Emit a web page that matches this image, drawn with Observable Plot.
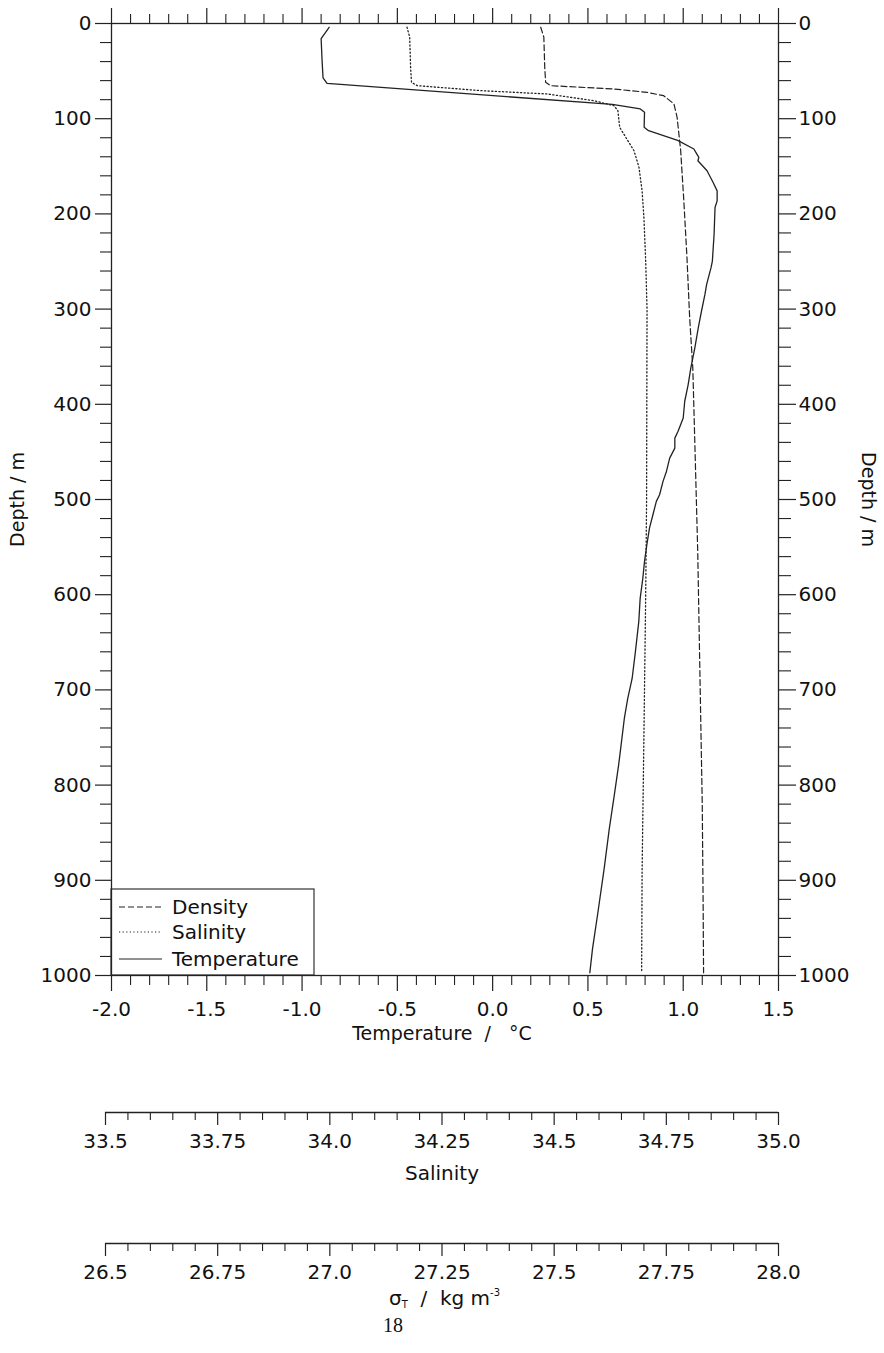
<!DOCTYPE html>
<html>
<head>
<meta charset="utf-8">
<script src="https://cdn.jsdelivr.net/npm/d3@7"></script>
<script src="https://cdn.jsdelivr.net/npm/@observablehq/plot@0.6"></script>
<style>
  html, body { margin: 0; padding: 0; background: #fff; }
  #chart svg { display: block; }
</style>
</head>
<body>
<div id="chart"></div>
<script>
// ---------------- DATA ----------------
// Temperature profile (°C) vs depth (m)
const tempDepth = [4, 16, 39, 57, 63, 85, 89.7, 93.3, 109, 112.6, 122.7, 131.8, 137, 140.7, 144.2, 154.7, 167, 175.8, 186.3, 193.3, 221.4, 249.5, 256.5, 274, 284.6, 302, 319.7, 340.7, 361.8, 379.3, 396.8, 414.4, 428.4, 435.5, 446, 456.5, 470.5, 481, 495, 502, 516, 530, 547.7, 565, 582.8, 604, 628, 660, 688, 709, 730, 758, 779, 811, 846, 888, 937, 972, 997];
const tempValue = [-0.858, -0.900, -0.895, -0.890, -0.869, 0.628, 0.775, 0.797, 0.795, 0.818, 0.971, 1.056, 1.071, 1.082, 1.077, 1.125, 1.157, 1.178, 1.178, 1.167, 1.162, 1.153, 1.146, 1.123, 1.114, 1.096, 1.079, 1.061, 1.040, 1.026, 1.008, 1.000, 0.973, 0.956, 0.956, 0.929, 0.912, 0.894, 0.876, 0.859, 0.841, 0.823, 0.809, 0.797, 0.788, 0.774, 0.767, 0.749, 0.732, 0.709, 0.691, 0.674, 0.661, 0.638, 0.612, 0.585, 0.550, 0.524, 0.510];

// Salinity profile vs depth (m)
const salDepth = [3.9, 14.4, 46, 61.8, 65.3, 70.5, 74, 81, 86.3, 91.6, 109, 116, 133.7, 151, 175.8, 203.9, 249.5, 300, 500, 600, 750, 890, 997];
const salValue = [34.172, 34.178, 34.180, 34.182, 34.195, 34.336, 34.484, 34.588, 34.633, 34.642, 34.646, 34.655, 34.678, 34.689, 34.696, 34.700, 34.704, 34.707, 34.706, 34.704, 34.700, 34.696, 34.695];

// Density (sigma-T, kg m-3) vs depth (m)
const denDepth = [3.9, 14.4, 46, 61.8, 65.3, 68.8, 72.3, 75.8, 84.5, 98.6, 133.7, 186.3, 246, 309, 362, 449, 555, 660, 713, 818, 923, 997];
const denValue = [27.470, 27.477, 27.479, 27.481, 27.492, 27.633, 27.707, 27.744, 27.767, 27.774, 27.782, 27.789, 27.796, 27.802, 27.809, 27.814, 27.820, 27.824, 27.826, 27.830, 27.832, 27.833];

// Axis ticks and labels
const tempTicks = [-2.0, -1.5, -1.0, -0.5, 0.0, 0.5, 1.0, 1.5];
const tempTickLabels = ["-2.0", "-1.5", "-1.0", "-0.5", "0.0", "0.5", "1.0", "1.5"];
const depthTicks = [0, 100, 200, 300, 400, 500, 600, 700, 800, 900, 1000];
const depthTickLabels = ["0", "100", "200", "300", "400", "500", "600", "700", "800", "900", "1000"];
const salTicks = [33.5, 33.75, 34.0, 34.25, 34.5, 34.75, 35.0];
const salTickLabels = ["33.5", "33.75", "34.0", "34.25", "34.5", "34.75", "35.0"];
const denTicks = [26.5, 26.75, 27.0, 27.25, 27.5, 27.75, 28.0];
const denTickLabels = ["26.5", "26.75", "27.0", "27.25", "27.5", "27.75", "28.0"];

const seriesNames = ["Density", "Salinity", "Temperature"];
const seriesDash = ["6,3", "1.2,2.4", null];

// ---------------- LAYOUT ----------------
const W = 884;
const FONT = "DejaVu Sans";
const INK = "#111";
const LINE = "#222";
const main = { height: 1060, left: 111, right: 106, top: 23, bottom: 85 };
const auxInset = 6; // secondary axes start a little left of the temperature axis
const auxLeftPx = main.left - auxInset;

const tempDomain = [tempTicks[0], tempTicks[tempTicks.length - 1]];
const unitsPerPx = (tempDomain[1] - tempDomain[0]) / (W - main.left - main.right);
const auxLeftT = tempDomain[0] - auxInset * unitsPerPx;

// map the secondary quantities onto the temperature axis, as the figure does
const salToT = d3.scaleLinear([salTicks[0], salTicks[salTicks.length - 1]], [auxLeftT, tempDomain[1]]);
const denToT = d3.scaleLinear([denTicks[0], denTicks[denTicks.length - 1]], [auxLeftT, tempDomain[1]]);

const tempRows = tempDepth.map((d, i) => ({ depth: d, value: tempValue[i] }));
const salRows = salDepth.map((d, i) => ({ depth: d, value: salToT(salValue[i]) }));
const denRows = denDepth.map((d, i) => ({ depth: d, value: denToT(denValue[i]) }));

const near = (a, b) => Math.abs(a - b) < 1e-9;
const fmt = (ticks, labels) => d => { const i = ticks.findIndex(t => near(t, d)); return i >= 0 ? labels[i] : ""; };
const blank = () => "";
const minorOf = (ticks, step) => {
  const lo = ticks[0], hi = ticks[ticks.length - 1];
  const n = Math.round((hi - lo) / step);
  return d3.range(n + 1).map(i => +(lo + i * step).toFixed(6)).filter(v => !ticks.some(t => near(t, v)));
};
const tempMinor = minorOf(tempTicks, 0.1);
const depthMinor = minorOf(depthTicks, 20);
const salMinor = minorOf(salTicks, 0.05);
const denMinor = minorOf(denTicks, 0.05);

// legend drawn in the lower-left corner of the frame
function legendMark(index, scales, values, dims) {
  const x0 = dims.marginLeft;
  const yb = dims.height - dims.marginBottom;
  const boxW = 203, boxH = 86;
  const rows = [-68, -43, -16];
  const g = d3.create("svg:g");
  g.append("rect").attr("x", x0).attr("y", yb - boxH).attr("width", boxW).attr("height", boxH)
    .attr("fill", "#fff").attr("stroke", "#333").attr("stroke-width", 1.2);
  seriesNames.forEach((name, i) => {
    const y = yb + rows[i];
    const l = g.append("line").attr("x1", x0 + 8).attr("x2", x0 + 51).attr("y1", y).attr("y2", y)
      .attr("stroke", LINE).attr("stroke-width", 1.2);
    if (seriesDash[i]) l.attr("stroke-dasharray", seriesDash[i]);
    g.append("text").attr("x", x0 + 61).attr("y", y).attr("dy", "0.36em")
      .attr("text-anchor", "start")
      .attr("font-family", FONT).attr("font-size", 20).attr("fill", INK).text(name);
  });
  return g.node();
}

const svgStyle = { fontFamily: FONT, fontSize: "20px", color: INK, background: "#fff", overflow: "visible" };

const mainPlot = Plot.plot({
  width: W, height: main.height,
  marginLeft: main.left, marginRight: main.right, marginTop: main.top, marginBottom: main.bottom,
  style: svgStyle,
  x: { domain: tempDomain },
  y: { domain: [0, 1000], reverse: true },
  marks: [
    Plot.axisX({ anchor: "top", ticks: tempTicks, tickSize: 16, tickFormat: blank, label: null, stroke: LINE, strokeWidth: 1.2 }),
    Plot.axisX({ anchor: "top", ticks: tempMinor, tickSize: 10, tickFormat: blank, label: null, stroke: LINE, strokeWidth: 1.1 }),
    Plot.axisX({ anchor: "bottom", ticks: tempTicks, tickSize: 16, tickPadding: 10, tickFormat: fmt(tempTicks, tempTickLabels), label: null, stroke: LINE, strokeWidth: 1.2, fontSize: 20 }),
    Plot.axisX({ anchor: "bottom", ticks: tempMinor, tickSize: 10, tickFormat: blank, label: null, stroke: LINE, strokeWidth: 1.1 }),
    Plot.axisY({ anchor: "left", ticks: depthTicks, tickSize: 16, tickPadding: 4, tickFormat: fmt(depthTicks, depthTickLabels), label: null, stroke: LINE, strokeWidth: 1.2, fontSize: 20 }),
    Plot.axisY({ anchor: "left", ticks: depthMinor, tickSize: 11, tickFormat: blank, label: null, stroke: LINE, strokeWidth: 1.1 }),
    Plot.axisY({ anchor: "right", ticks: depthTicks, tickSize: 17, tickPadding: 3, tickFormat: fmt(depthTicks, depthTickLabels), label: null, stroke: LINE, strokeWidth: 1.2, fontSize: 20 }),
    Plot.axisY({ anchor: "right", ticks: depthMinor, tickSize: 12, tickFormat: blank, label: null, stroke: LINE, strokeWidth: 1.1 }),
    Plot.line(denRows, { x: "value", y: "depth", stroke: LINE, strokeWidth: 1.2, strokeDasharray: seriesDash[0] }),
    Plot.line(salRows, { x: "value", y: "depth", stroke: LINE, strokeWidth: 1.3, strokeDasharray: seriesDash[1] }),
    Plot.line(tempRows, { x: "value", y: "depth", stroke: LINE, strokeWidth: 1.3 }),
    legendMark,
    Plot.frame({ stroke: LINE, strokeWidth: 1.3 }),
    Plot.text(["Depth / m"], { text: d => d, frameAnchor: "left", rotate: -90, dx: -94, textAnchor: "middle", lineAnchor: "middle", fontSize: 19, fill: INK }),
    Plot.text(["Depth / m"], { text: d => d, frameAnchor: "right", rotate: 90, dx: 90, textAnchor: "middle", lineAnchor: "middle", fontSize: 19, fill: INK }),
    Plot.text(["Temperature\u00a0\u00a0/\u00a0\u00a0\u00a0°C"], { text: d => d, frameAnchor: "bottom", dx: -3, dy: 58, textAnchor: "middle", lineAnchor: "middle", fontSize: 19, fill: INK })
  ]
});

function auxAxis(ticks, labels, minor, height, lineY, extraMarks) {
  return Plot.plot({
    width: W, height,
    marginLeft: auxLeftPx, marginRight: main.right, marginTop: lineY - 20, marginBottom: height - lineY,
    style: svgStyle,
    x: { domain: [ticks[0], ticks[ticks.length - 1]] },
    y: { domain: [0, 1], axis: null },
    marks: [
      Plot.ruleY([0], { x1: ticks[0], x2: ticks[ticks.length - 1], stroke: LINE, strokeWidth: 1.3 }),
      Plot.axisX({ anchor: "bottom", ticks, tickSize: 13, tickPadding: 8, tickFormat: fmt(ticks, labels), label: null, stroke: LINE, strokeWidth: 1.2, fontSize: 20 }),
      Plot.axisX({ anchor: "bottom", ticks: minor, tickSize: 8, tickFormat: blank, label: null, stroke: LINE, strokeWidth: 1.1 }),
      ...extraMarks
    ]
  });
}

const salPlot = auxAxis(salTicks, salTickLabels, salMinor, 130, 52, [
  Plot.text(["Salinity"], { text: d => d, frameAnchor: "bottom", dy: 61, textAnchor: "middle", lineAnchor: "middle", fontSize: 20, fill: INK })
]);

function densityTitle(index, scales, values, dims) {
  const g = d3.create("svg:g");
  const cx = (dims.marginLeft + dims.width - dims.marginRight) / 2 + 3;
  const line = dims.height - dims.marginBottom;
  const t = g.append("text").attr("x", cx).attr("y", line + 62).attr("text-anchor", "middle")
    .attr("font-family", FONT).attr("font-size", 20).attr("fill", INK);
  t.append("tspan").text("σ");
  t.append("tspan").attr("font-size", 10).attr("dy", 3).text("T");
  t.append("tspan").attr("dy", -3).text("\u00a0\u00a0/\u00a0\u00a0kg m");
  t.append("tspan").attr("font-size", 10).attr("dy", -9).text("-3");
  // page number
  g.append("text").attr("x", 393).attr("y", line + 89).attr("text-anchor", "middle")
    .attr("font-family", "Liberation Serif").attr("font-size", 20).attr("fill", INK).text("18");
  return g.node();
}

const denPlot = auxAxis(denTicks, denTickLabels, denMinor, 163, 53, [densityTitle]);

const root = document.getElementById("chart");
root.append(mainPlot, salPlot, denPlot);
</script>
</body>
</html>
